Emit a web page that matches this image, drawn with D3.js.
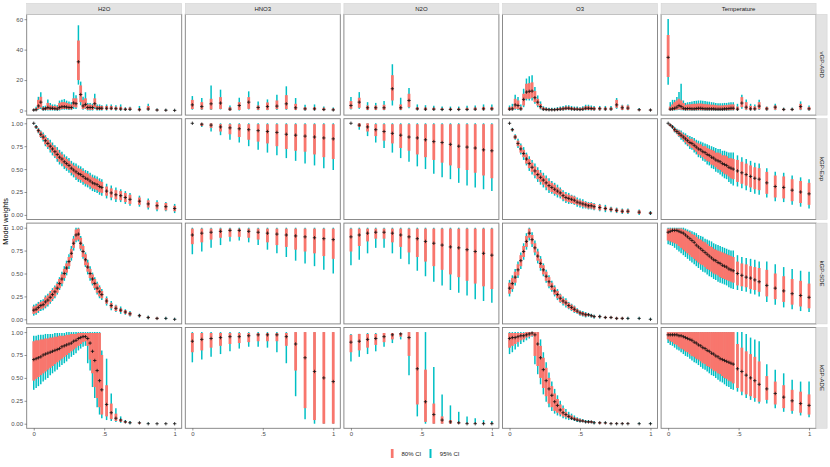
<!DOCTYPE html>
<html>
<head>
<meta charset="utf-8">
<script src="https://cdn.jsdelivr.net/npm/d3@7"></script>
<style>
  body { margin: 0; background: #fff; }
  text { font-family: "Liberation Sans", Arial, sans-serif; }
</style>
</head>
<body>
<div id="chart"></div>
<script>
// facets
const variables = ["H2O", "HNO3", "N2O", "O3", "Temperature"];
const models = ["vGP-ARD", "kGP-Exp", "kGP-SDE", "kGP-ADE"];
const xTicks = [0, 0.5, 1];
const xTickLabels = ["0", ".5", "1"];
const yTicksTop = [0, 20, 40, 60];
const yTicksWeights = [0, 0.25, 0.5, 0.75, 1];
const legendLabels = ["80% CI", "95% CI"];

// x positions (normalised) per variable
const xH2O = [0,0.017,0.033,0.05,0.067,0.083,0.1,0.117,0.133,0.15,0.167,0.183,0.2,0.217,0.233,0.25,0.267,0.283,0.3,0.317,0.333,0.35,0.367,0.383,0.4,0.417,0.433,0.45,0.467,0.483,0.517,0.55,0.583,0.617,0.65,0.683,0.75,0.8125,0.875,0.9375,1];
const xHNO3 = [0,0.067,0.133,0.2,0.267,0.333,0.4,0.467,0.533,0.6,0.667,0.733,0.8,0.867,0.933,1];
const xN2O = [0,0.059,0.118,0.176,0.235,0.294,0.353,0.412,0.471,0.529,0.588,0.647,0.706,0.765,0.824,0.882,0.941,1];
const xO3 = [0,0.02,0.04,0.06,0.08,0.1,0.12,0.14,0.16,0.18,0.2,0.22,0.24,0.26,0.28,0.3,0.32,0.34,0.36,0.38,0.4,0.42,0.44,0.46,0.48,0.5,0.52,0.54,0.56,0.58,0.6,0.64,0.68,0.72,0.76,0.8,0.84,0.92,1];
const xTemp = [0,0.015,0.031,0.046,0.062,0.077,0.092,0.108,0.123,0.138,0.154,0.169,0.185,0.2,0.215,0.231,0.246,0.262,0.277,0.292,0.308,0.323,0.338,0.354,0.369,0.385,0.4,0.415,0.431,0.446,0.462,0.492,0.523,0.554,0.585,0.615,0.646,0.7,0.76,0.82,0.88,0.94,1];

// ---- vGP-ARD (raw weights) ----
const ard_H2O = {
  med:  [0.3,0.5,3,5.5,1,1.2,2,1.5,1.5,1.2,1,2,2.5,2.5,2.3,2,2,5,4.5,32,10.5,3,4,2,2,2,4.5,1.5,1.5,1.5,1.5,1.5,1.2,1,0.8,0.8,0.5,1,0.3,0.2,0.1],
  lo80: [0,0.1,1,2,0.3,0.4,0.5,0.5,0.5,0.5,0.5,0.5,1,1,1,0.8,0.8,2.5,2,20,5.5,1,1.5,0.5,0.5,0.5,2,0.5,0.5,0.5,0.5,0.5,0.5,0.3,0.2,0.3,0,0.2,0,0,0],
  hi80: [0.6,1.5,7,9,2,2.2,5,3.5,3,3,2.5,5,5.5,5.5,5,4.5,4,8,8,46,16.5,7,8,4,4,3.5,8,3,3,3,3,3,2.5,2.5,1.5,2,1.5,3,0.8,0.5,0.3],
  lo95: [0,0,0.5,1,0,0.1,0,0,0,0,0,0,0.5,0.5,0.5,0.3,0.3,1,1,17,3.5,0.5,1,0,0,0,1,0,0,0,0,0.2,0,0,0,0,0,0,0,0,0],
  hi95: [1,2.5,9,12,3,3.2,7.3,5,4,4,3.5,6.5,7,7.5,6.5,6,5.5,12,10,56,19,9,12,5,5,4.5,11,4,4,3.5,4,4,3.5,4,2,2.5,3,4.5,1.2,0.8,0.5]
};
const ard_HNO3 = {
  med:  [3.7,2.6,4.4,4.9,0.9,3.3,5.5,2,2.6,2.9,4.4,1.8,1.1,1.1,0.7,0.4],
  lo80: [1,0.7,0.7,1,0,0.4,1.1,0.4,0.4,0.9,0.9,0.4,0.2,0.2,0,0],
  hi80: [7,5.5,7.7,8.8,2.2,5.5,8.8,3.3,5.3,6.6,10.1,4.4,2.2,2.2,1.8,1.3],
  lo95: [0.5,0.4,0.4,0.7,0,0,0.7,0.2,0.2,0.4,0.4,0.2,0,0,0,0],
  hi95: [9.5,8.2,16.5,13.7,3.3,8.4,12.6,6,7.3,10.4,15.9,8.2,3.8,4,2.6,2]
};
const ard_N2O = {
  med:  [3.3,5.5,1.8,1.8,1.8,14.3,1.8,6.6,1.1,0.9,0.9,0.7,0.7,0.7,0.7,0.9,1.1,1.1],
  lo80: [1.1,1.8,0.4,0.4,0.4,6.6,0.4,2.2,0.4,0.2,0.2,0.2,0.2,0.2,0.2,0.2,0.2,0.2],
  hi80: [6.2,8.4,3.3,3.3,3.8,23.2,4,11,2.2,2,1.8,1.5,1.5,1.5,1.8,2,2.4,2.4],
  lo95: [0.7,1.1,0.2,0.2,0.2,3.3,0.2,1.5,0.2,0,0,0,0,0,0,0,0,0],
  hi95: [8.8,12.1,5.5,5,6.2,30.4,8.4,14.8,4,3.5,3.1,2.6,2.6,2.6,3.1,3.3,4,4]
};
const ard_O3 = {
  med:  [0.9,1.1,3.7,3.3,1.1,7.3,12.1,12.6,12.8,8.4,5.5,2.6,0.9,0.7,0.5,0.5,0.5,0.7,0.9,1.1,1.5,1.5,1.1,0.9,0.9,0.7,0.9,1.5,1.5,1.3,1.1,1.2,1,1,3.7,1.8,1.6,0.5,0.3],
  lo80: [0.2,0.2,1.1,0.9,0.2,3.3,7.7,7.7,8.4,5.5,3.3,1.3,0.2,0.1,0.1,0.1,0.1,0.1,0.2,0.2,0.5,0.5,0.3,0.2,0.2,0.1,0.2,0.4,0.4,0.3,0.2,0.2,0.2,0.2,1.8,0.4,0.4,0,0],
  hi80: [2.2,2.6,7.7,6.6,2.6,11,17.6,18,18.5,12.8,7.7,4.4,2,1.5,1.1,1.1,1.1,1.5,1.8,2.2,2.6,2.6,2.2,1.8,1.8,1.5,2,2.8,2.8,2.4,2.2,2.2,2,2,7,3.3,3.3,1,0.7],
  lo95: [0,0,0.5,0.4,0,2.2,6.6,6.6,6.6,4.4,2.2,0.7,0,0,0,0,0,0,0,0,0.2,0.2,0.1,0,0,0,0,0.1,0.1,0.1,0,0,0,0,1.1,0.2,0.2,0,0],
  hi95: [3.3,4.4,10.4,8.8,4,14.3,21,22.5,23.2,15.4,9.9,6,2.8,2.2,1.8,1.8,1.8,2.2,2.6,3,3.5,3.5,3,2.6,2.6,2.2,2.8,3.8,3.8,3.3,3,3,3,3,8.2,3.8,4,1.5,1]
};
const ard_Temp = {
  med:  [34.9,0.9,1.1,1.5,2.2,3.3,2.6,1.5,1.1,1.3,1.3,1.1,1.1,1.3,1.5,1.5,1.3,1.1,1.1,1.1,1.1,1.1,0.9,0.9,0.9,0.9,1.1,1.1,1.3,1.5,1.5,0.9,4.9,2.2,1.1,1.1,2.9,1.1,2.2,0.7,0.7,2.6,1.1],
  lo80: [22,0.1,0.2,0.3,0.5,0.8,0.6,0.3,0.2,0.2,0.2,0.2,0.2,0.2,0.2,0.2,0.2,0.2,0.2,0.2,0.2,0.2,0.2,0.2,0.2,0.2,0.2,0.2,0.2,0.2,0.2,0.2,2.2,0.5,0.2,0.2,0.8,0.2,0.5,0.1,0.1,0.6,0.2],
  hi80: [49.6,2.6,4,5.5,6.6,7.7,6.6,4.9,3.5,4,4,4.2,4.4,4.4,4.6,4.6,4.4,4.2,4,4,3.8,3.8,3.5,3.3,3.3,3.3,3.5,3.5,3.8,4,4,2.6,8.8,5.5,3.1,2.8,5.5,2.4,3.3,1.3,1.3,4.4,2.4],
  lo95: [17,0,0,0,0.1,0.3,0.2,0,0,0,0,0,0,0,0,0,0,0,0,0,0,0,0,0,0,0,0,0,0,0,0,0,1.1,0.2,0,0,0.3,0,0.2,0,0,0.2,0],
  hi95: [60.2,5.5,7,7,8.8,12.1,17.6,6.6,5,5.4,5.6,6,6.2,6.4,6.6,6.6,6.4,6.2,6,5.8,5.5,5.3,5,4.8,4.8,4.8,5,5,5.2,5.4,5.4,4.4,10.4,7.3,4.4,4,7,2.6,4.4,1.8,1.8,6,3.3]
};

// ---- kGP-Exp (weights in %) ----
const exp_H2O = {
  med:  [100,96,92,88,85,81,78,75,72,69,66,63,61,58,56,54,51,49,47,45,44,42,40,39,37,35,34,33,31,30,26,24,22,21,19,17,15,12,10,9,7],
  lo80: [100,95,90,85,82,77,74,71,68,64,61,58,56,53,51,49,46,44,41,39,38,36,34,33,31,29,28,27,25,24,21,19,17,16,14,12,11,8,6,5,4],
  hi80: [100,97,94,91,88,85,82,79,76,74,71,68,66,63,61,59,56,54,53,51,50,48,46,45,43,41,40,39,37,36,31,29,27,26,24,22,19,16,14,13,10],
  lo95: [100,94,89,84,80,75,72,68,65,62,58,55,53,50,48,46,43,41,38,36,35,33,31,30,28,26,25,24,22,21,18,16,14,14,12,10,9,6,4,4,2],
  hi95: [100,98,95,92,90,87,84,82,79,76,74,71,69,66,64,62,59,57,56,54,53,51,49,48,46,44,43,42,40,39,34,32,30,28,26,24,21,18,16,14,12]
};
const exp_HNO3 = {
  med:  [100,99,98,96,95,94,93,92,91,90,88,87,86,85,84,83],
  lo80: [100,97,95,91,88,85,82,80,78,75,72,70,69,66,63,61],
  hi80: [100,100,100,99,99,99,99,99,99,99,99,99,99,99,99,99],
  lo95: [100,96,91,87,82,79,75,71,68,65,62,59,56,54,51,49],
  hi95: [100,100,100,100,100,100,100,100,100,100,100,100,100,100,100,100]
};
const exp_N2O = {
  med:  [100,98,96,93,91,89,87,85,84,82,80,79,77,75,74,73,71,70],
  lo80: [100,96,91,86,81,78,73,70,66,63,60,57,54,51,49,46,43,40],
  hi80: [100,100,100,99,99,99,99,99,99,99,99,99,99,99,99,99,99,99],
  lo95: [100,93,86,79,73,68,62,58,53,50,45,41,39,35,32,30,28,26],
  hi95: [100,100,100,100,100,100,100,100,100,100,100,100,100,100,100,100,100,100]
};
const exp_O3 = {
  med:  [100,93,85,78,72,67,61,56,52,48,44,41,38,35,32,30,28,26,24,21,19,18,17,16,14,13,12,11,10,10,9,8,7,6,5,4,4,3,2],
  lo80: [100,92,83,75,68,63,56,51,47,43,39,36,33,30,27,25,23,22,20,17,15,14,13,12,11,10,9,8,7,7,6,5,5,4,3,2,2,1,1],
  hi80: [100,94,87,81,76,71,66,61,57,53,49,46,43,40,37,35,33,30,28,25,23,22,21,20,17,16,15,14,13,13,12,11,9,8,7,6,6,5,3],
  lo95: [100,91,82,73,66,60,54,48,44,40,36,33,30,27,24,23,21,19,18,15,13,12,12,11,9,8,7,7,6,6,5,4,3,3,2,1,1,0,0],
  hi95: [100,95,88,83,78,74,68,64,60,56,52,49,46,43,40,37,35,33,30,27,25,24,22,21,19,18,17,15,14,14,13,12,11,9,8,7,7,6,4]
};
const exp_Temp = {
  med:  [100,98,96,93,91,89,87,85,83,81,79,78,76,74,72,71,69,68,66,65,63,62,60,59,58,56,55,54,52,51,50,48,46,44,42,40,39,35,31,30,27,25,23],
  lo80: [100,97,95,91,89,86,84,82,79,77,75,73,71,69,66,65,63,61,59,58,55,54,52,50,49,47,45,44,42,40,39,36,34,32,30,28,27,23,19,18,15,13,11],
  hi80: [100,99,97,95,93,92,90,88,87,85,83,83,81,79,78,77,75,75,73,72,71,70,68,68,67,65,65,64,62,62,61,60,58,56,54,52,51,47,43,42,39,37,35],
  lo95: [100,97,94,90,88,85,82,80,77,75,72,71,68,66,63,62,59,58,55,54,51,50,47,46,44,42,40,39,36,34,32,31,29,27,25,23,22,19,15,14,11,9,7],
  hi95: [100,99,98,96,94,93,92,90,89,87,86,85,84,82,81,80,79,78,77,76,75,74,73,72,72,70,70,69,68,68,68,65,63,61,59,57,56,51,47,46,43,41,39]
};

// ---- kGP-SDE (weights in %) ----
const sde_H2O = {
  med:  [10,11,13,15,16,19,21,24,27,30,34,39,44,50,56,63,72,83,92,93,83,74,65,57,50,44,39,34,30,27,20,15,12,10,8,6,4,2,1,1,0],
  lo80: [6,7,9,11,12,14,16,19,22,25,29,34,39,45,51,58,67,78,86,87,77,68,59,52,45,39,34,29,25,23,17,12,9,8,6,4,3,1,0,1,0],
  hi80: [14,15,17,19,20,24,26,29,32,35,39,44,49,55,61,68,77,88,98,99,89,80,71,62,55,49,44,39,35,31,23,18,15,12,10,8,5,3,2,1,0],
  lo95: [4,5,7,9,10,12,14,17,20,23,27,32,36,42,48,55,64,75,84,85,75,66,57,49,42,37,32,27,23,21,15,10,8,6,5,3,2,0,0,0,0],
  hi95: [16,17,19,21,22,26,28,31,34,37,41,46,52,58,64,71,80,91,100,100,91,82,73,65,58,51,46,41,37,33,25,20,16,14,11,9,6,4,2,2,1]
};
const sde_HNO3 = {
  med:  [92,94,95,96,97,97,96,95,94,93,92,91,90,89,88,87],
  lo80: [82,84,87,89,90,90,89,87,84,81,79,76,74,72,69,66],
  hi80: [99,99,99,99,99,99,99,99,99,99,99,99,99,99,99,99],
  lo95: [71,74,78,81,85,86,84,81,76,72,68,64,61,58,54,50],
  hi95: [100,100,100,100,100,100,100,100,100,100,100,100,100,100,100,100]
};
const sde_N2O = {
  med:  [90,92,94,95,95,94,92,90,88,85,83,81,79,78,76,74,72,70],
  lo80: [74,80,85,88,88,84,79,73,68,63,58,54,49,46,42,39,36,33],
  hi80: [99,99,99,99,99,99,99,99,99,99,99,99,99,99,99,99,99,99],
  lo95: [59,65,72,78,78,72,66,60,53,47,41,37,32,29,26,22,20,18],
  hi95: [100,100,100,100,100,100,100,100,100,100,100,100,100,100,100,100,100,100]
};
const sde_O3 = {
  med:  [34,39,46,54,64,74,85,94,87,78,69,61,54,47,41,36,31,27,23,20,18,15,13,11,9,7,6,5,5,4,3,3,2,2,1,1,1,1,0],
  lo80: [28,33,40,48,58,68,79,89,82,73,64,56,49,42,36,32,27,23,19,17,15,12,10,8,7,5,4,3,4,3,2,2,1,1,0,0,1,1,0],
  hi80: [40,45,52,60,70,80,91,99,92,83,74,66,59,52,46,40,35,31,27,23,21,18,16,14,11,9,8,7,6,5,4,4,3,3,2,2,1,1,0],
  lo95: [25,30,37,45,55,65,76,86,79,70,61,53,47,40,34,30,25,21,18,15,13,11,9,7,6,4,3,2,3,2,1,1,1,1,0,0,0,0,0],
  hi95: [43,48,55,63,73,83,94,100,95,86,77,69,61,54,48,42,37,33,28,25,23,19,17,15,12,10,9,8,7,6,5,5,3,3,2,2,2,2,1]
};
const sde_Temp = {
  med:  [95,96,97,97,97,96,95,94,92,90,88,86,84,81,79,77,75,73,71,69,67,65,64,62,61,59,58,57,55,54,53,50,48,46,45,43,41,37,34,31,28,26,24],
  lo80: [86,85,84,83,82,80,78,76,74,72,70,68,66,64,62,60,59,57,55,54,52,50,49,48,46,45,44,43,42,41,40,37,36,35,33,32,30,25,22,19,16,14,12],
  hi80: [99,99,99,99,99,99,99,98,97,96,95,93,92,90,88,87,85,84,82,80,79,77,76,75,74,73,72,71,70,69,68,63,61,60,58,57,56,54,50,47,44,42,39],
  lo95: [82,81,80,78,76,74,72,70,68,66,64,62,60,58,56,54,52,51,49,47,46,44,43,41,40,39,38,37,35,34,33,32,31,30,28,27,25,19,16,13,11,9,8],
  hi95: [100,100,100,100,100,100,100,100,99,98,97,96,95,94,92,91,90,88,87,86,85,83,82,81,80,79,78,77,76,75,75,70,68,67,66,65,63,63,60,57,55,53,52]
};

// ---- kGP-ADE (weights in %) ----
const ade_H2O = {
  med:  [70,71,72,73,75,76,77,78,79,80,81,82,84,85,86,87,88,90,91,93,94,95,95,93,88,79,69,58,47,37,21,12,6,4,2,1,1,0,0,0,0],
  lo80: [47,49,51,53,55,57,59,61,63,65,67,69,71,73,75,77,79,81,83,85,87,89,90,85,70,55,40,28,18,10,8,5,3,2,1,1,0,0,0,0,0],
  hi80: [90,91,91,92,92,93,93,94,94,95,95,96,96,96,97,97,98,98,98,99,99,99,99,99,99,99,99,99,99,75,42,22,11,5,3,2,1,0,0,0,0],
  lo95: [37,39,41,43,46,48,50,53,55,57,59,62,64,66,68,71,73,75,77,80,82,84,85,66,58,40,28,18,10,6,4,3,2,1,1,0,0,0,0,0,0],
  hi95: [96,96,97,97,97,98,98,98,98,99,99,99,99,99,100,100,100,100,100,100,100,100,100,100,100,100,100,100,100,80,71,33,17,8,4,3,1,1,0,0,0]
};
const ade_HNO3 = {
  med:  [90,92,93,94,95,95,96,97,97,97,95,87,72,57,50,46],
  lo80: [78,80,83,85,87,88,89,90,90,90,85,58,17,4,0,0],
  hi80: [99,99,99,99,99,99,99,99,99,99,99,100,100,100,100,100],
  lo95: [67,70,73,76,79,82,84,84,83,78,66,30,5,0,0,0],
  hi95: [100,100,100,100,100,100,100,100,100,100,100,100,100,100,100,100]
};
const ade_N2O = {
  med:  [89,90,92,93,95,97,98,94,60,24,10,4,2,1,0,0,0,0],
  lo80: [78,80,83,86,89,92,95,74,21,2,0,0,0,0,0,0,0,0],
  hi80: [97,98,98,98,99,99,99,100,100,59,22,8,4,2,1,1,1,1],
  lo95: [68,73,76,79,84,88,92,53,8,0,0,0,0,0,0,0,0,0],
  hi95: [98,98,99,99,99,99,99,100,100,100,62,32,20,13,8,6,4,3]
};
const ade_O3 = {
  med:  [93,94,94,95,96,96,97,98,99,97,87,72,59,47,38,31,24,20,15,12,10,8,6,5,4,3,3,2,2,2,1,1,1,0,0,0,0,0,0],
  lo80: [83,85,87,89,91,92,94,95,96,74,63,50,39,30,22,18,14,12,10,8,7,6,5,4,3,3,2,2,1,1,1,0,0,0,0,0,0,0,0],
  hi80: [99,99,99,99,99,99,100,100,100,100,100,85,72,61,50,41,33,27,21,17,13,10,9,7,6,5,4,3,3,3,2,2,1,1,1,1,1,0,0],
  lo95: [76,78,81,84,87,89,91,93,95,65,54,43,32,24,18,14,11,9,8,6,5,4,4,3,2,2,2,1,1,1,0,0,0,0,0,0,0,0,0],
  hi95: [100,100,100,100,100,100,100,100,100,100,100,92,78,67,56,46,38,31,25,20,16,13,11,9,7,6,5,4,4,3,3,2,2,1,1,1,1,1,1]
};
const ade_Temp = {
  med:  [97,97,97,97,97,96,96,95,94,93,92,91,89,88,86,85,83,82,80,79,77,76,74,73,71,70,69,68,67,66,65,60,57,53,50,47,43,38,33,29,25,22,20],
  lo80: [92,90,89,87,86,84,82,81,79,78,76,74,73,71,70,68,66,65,63,62,60,58,57,55,54,52,50,49,47,46,44,39,35,32,30,28,24,26,21,17,14,12,10],
  hi80: [100,100,100,100,100,100,100,100,100,100,100,100,100,100,100,100,100,100,100,100,100,100,100,100,100,100,100,100,100,100,100,87,83,79,76,73,68,52,46,42,37,35,32],
  lo95: [88,86,85,83,81,80,78,76,74,73,71,69,67,66,64,62,60,59,57,55,53,52,50,48,46,45,43,41,40,38,37,35,31,28,26,24,22,22,17,13,11,9,7],
  hi95: [100,100,100,100,100,100,100,100,100,100,100,100,100,100,100,100,100,100,100,100,100,100,100,100,100,100,100,100,100,100,100,100,100,98,94,92,90,65,59,55,48,46,46]
};

const xByVar = [xH2O, xHNO3, xN2O, xO3, xTemp];
const grid = [
  [ard_H2O, ard_HNO3, ard_N2O, ard_O3, ard_Temp],
  [exp_H2O, exp_HNO3, exp_N2O, exp_O3, exp_Temp],
  [sde_H2O, sde_HNO3, sde_N2O, sde_O3, sde_Temp],
  [ade_H2O, ade_HNO3, ade_N2O, ade_O3, ade_Temp]
];
const rowUnit = [1, 0.01, 0.01, 0.01];  // first row raw, others stored in percent

const red = "#F8766D", cyan = "#00BFC4";

/* layout */
const chartW = 830, chartH = 467;
const marginL = 26.7, marginT = 14.3;
const pw = 155, ph = 100.8, gap = 3.6, strip = 11;

const svg = d3.select("#chart").append("svg")
  .attr("width", chartW)
  .attr("height", chartH)
  .style("background", "#fff");

// build point rows for every panel
const panels = [];
grid.forEach((row, r) => {
  row.forEach((d, c) => {
    const k = rowUnit[r];
    const pts = d.med.map((m, i) => ({
      x: xByVar[c][i],
      med: m * k,
      lo80: d.lo80[i] * k, hi80: d.hi80[i] * k,
      lo95: d.lo95[i] * k, hi95: d.hi95[i] * k
    })).filter(p => p.x !== undefined);
    panels.push({ row: r, col: c, pts });
  });
});

const x = d3.scaleLinear().domain([-0.05, 1.05]).range([0, pw]);

// one y scale per row (free y), with ggplot-like 5% expansion
const yScales = models.map((m, r) => {
  const vals = panels.filter(p => p.row === r).flatMap(p => p.pts.flatMap(q => [q.lo95, q.hi95, q.med]));
  const [a, b] = d3.extent(vals);
  const pad = (b - a) * 0.05;
  return d3.scaleLinear().domain([a - pad, b + pad]).range([ph, 0]);
});

const px = c => marginL + c * (pw + gap);
const py = r => marginT + r * (ph + gap);

panels.forEach(p => {
  const g = svg.append("g").attr("transform", `translate(${px(p.col)},${py(p.row)})`);
  const y = yScales[p.row];

  g.append("rect").attr("width", pw).attr("height", ph).attr("fill", "#fff");

  g.selectAll(".ci95")
    .data(p.pts)
    .join("line")
    .attr("class", "ci95")
    .attr("x1", d => x(d.x)).attr("x2", d => x(d.x))
    .attr("y1", d => y(d.lo95)).attr("y2", d => y(d.hi95))
    .attr("stroke", cyan)
    .attr("stroke-width", 1.5);

  g.selectAll(".ci80")
    .data(p.pts)
    .join("line")
    .attr("class", "ci80")
    .attr("x1", d => x(d.x)).attr("x2", d => x(d.x))
    .attr("y1", d => y(d.lo80)).attr("y2", d => y(d.hi80))
    .attr("stroke", red)
    .attr("stroke-width", 2.8);

  g.selectAll(".med")
    .data(p.pts)
    .join("path")
    .attr("class", "med")
    .attr("transform", d => `translate(${x(d.x)},${y(d.med)})`)
    .attr("d", "M-1.7,0H1.7M0,-1.7V1.7")
    .attr("stroke", "#111")
    .attr("stroke-width", 0.8)
    .attr("fill", "none");

  g.append("rect")
    .attr("width", pw).attr("height", ph)
    .attr("fill", "none")
    .attr("stroke", "#7f7f7f")
    .attr("stroke-width", 0.9);
});

// y axes (left column)
models.forEach((m, r) => {
  const ax = d3.axisLeft(yScales[r])
    .tickValues(r === 0 ? yTicksTop : yTicksWeights)
    .tickFormat(r === 0 ? d3.format("d") : d3.format(".2f"))
    .tickSize(2.2)
    .tickPadding(1.5);
  const ga = svg.append("g").attr("transform", `translate(${marginL},${py(r)})`).call(ax);
  ga.select(".domain").remove();
  ga.selectAll("line").attr("stroke", "#4d4d4d").attr("stroke-width", 0.6);
  ga.selectAll("text").attr("fill", "#4d4d4d").style("font-size", "6px")
    .style("font-family", "'Liberation Sans', Arial, sans-serif");
});

// x axes (bottom row)
variables.forEach((v, c) => {
  const ax = d3.axisBottom(x)
    .tickValues(xTicks)
    .tickFormat((d, i) => xTickLabels[i])
    .tickSize(2.2)
    .tickPadding(1.5);
  const ga = svg.append("g").attr("transform", `translate(${px(c)},${py(3) + ph})`).call(ax);
  ga.select(".domain").remove();
  ga.selectAll("line").attr("stroke", "#4d4d4d").attr("stroke-width", 0.6);
  ga.selectAll("text").attr("fill", "#4d4d4d").style("font-size", "6px")
    .style("font-family", "'Liberation Sans', Arial, sans-serif");
});

// top strips
variables.forEach((v, c) => {
  const g = svg.append("g").attr("transform", `translate(${px(c)},${marginT - strip})`);
  g.append("rect").attr("width", pw).attr("height", strip)
    .attr("fill", "#e3e3e3").attr("stroke", "#d2d2d2").attr("stroke-width", 0.5);
  g.append("text").attr("x", pw / 2).attr("y", strip / 2 + 2.1)
    .attr("text-anchor", "middle").attr("fill", "#1a1a1a")
    .style("font-size", "6px").text(v);
});

// right strips
const stripX = px(4) + pw;
models.forEach((m, r) => {
  const g = svg.append("g").attr("transform", `translate(${stripX},${py(r)})`);
  g.append("rect").attr("width", strip).attr("height", ph)
    .attr("fill", "#e3e3e3").attr("stroke", "#d2d2d2").attr("stroke-width", 0.5);
  g.append("text")
    .attr("transform", `translate(${strip / 2 - 2.1},${ph / 2}) rotate(90)`)
    .attr("text-anchor", "middle").attr("fill", "#1a1a1a")
    .style("font-size", "6px").text(m);
});

// y title
svg.append("text")
  .attr("transform", `translate(7.5,${marginT + (4 * ph + 3 * gap) / 2}) rotate(-90)`)
  .attr("text-anchor", "middle")
  .attr("fill", "#000")
  .style("font-size", "7.3px")
  .text("Model weights");

// legend
const legendItems = [
  { label: legendLabels[0], color: red, w: 2.7, x: 392.2 },
  { label: legendLabels[1], color: cyan, w: 2.0, x: 430.5 }
];
const lg = svg.append("g");
lg.selectAll("line")
  .data(legendItems)
  .join("line")
  .attr("x1", d => d.x).attr("x2", d => d.x)
  .attr("y1", 449).attr("y2", 458)
  .attr("stroke", d => d.color)
  .attr("stroke-width", d => d.w);
lg.selectAll("text")
  .data(legendItems)
  .join("text")
  .attr("x", d => d.x + 9.3)
  .attr("y", 455.6)
  .attr("fill", "#1a1a1a")
  .style("font-size", "6px")
  .text(d => d.label);
</script>
</body>
</html>
